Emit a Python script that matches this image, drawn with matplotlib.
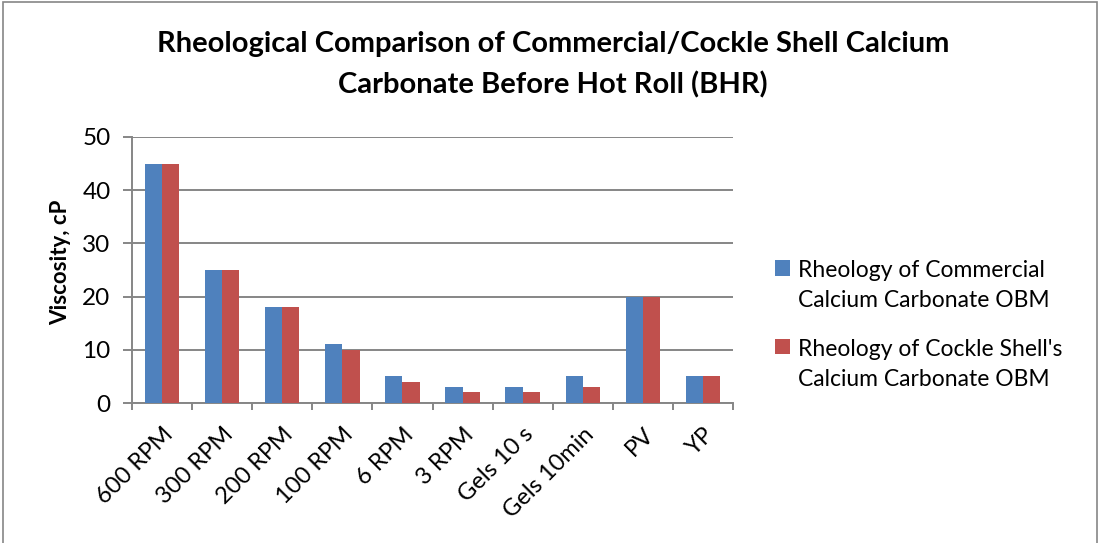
import numpy as np
import matplotlib
matplotlib.use("Agg")
import matplotlib.pyplot as plt

plt.rcParams['font.family'] = ['Lato', 'DejaVu Sans']

# data
categories = ["600 RPM", "300 RPM", "200 RPM", "100 RPM", "6 RPM", "3 RPM",
              "Gels 10 s", "Gels 10min", "PV", "YP"]
commercial = [45, 25, 18, 11, 5, 3, 3, 5, 20, 5]
cockle = [45, 25, 18, 10, 4, 2, 2, 3, 20, 5]
series_names = ["Rheology of Commercial\nCalcium Carbonate OBM",
                "Rheology of Cockle Shell's\nCalcium Carbonate OBM"]
y_ticks = [0, 10, 20, 30, 40, 50]

W, H = 1101, 543
fig = plt.figure(figsize=(W / 100, H / 100), dpi=100)

# plot area in pixel coordinates
left, right, top, bottom = 132, 733, 137, 403
ax = fig.add_axes([left / W, (H - bottom) / H, (right - left) / W, (bottom - top) / H])

grid_col = "#868686"
blue = "#4F81BD"
red = "#C0504D"
lw = 1.4

x = np.arange(len(categories))
w = 1 / 3.5
ax.bar(x - w / 2, commercial, w, color=blue, label=series_names[0], zorder=3)
ax.bar(x + w / 2, cockle, w, color=red, label=series_names[1], zorder=3)

ax.set_xlim(-0.5, len(categories) - 0.5)
ax.set_ylim(0, 50)
ax.set_yticks(y_ticks)
ax.set_yticklabels([str(v) for v in y_ticks], fontsize=17.5)
ax.yaxis.grid(True, color=grid_col, linewidth=lw, zorder=0)

# category boundary ticks, names centred under each pair
ax.set_xticks(np.arange(-0.5, len(categories), 1.0))
ax.set_xticklabels([])
ax.set_xticks(x, minor=True)
ax.set_xticklabels(categories, minor=True, rotation=45, ha="right",
                   rotation_mode="anchor", fontsize=17)
ax.tick_params(axis="x", which="minor", length=0, pad=15)
ax.tick_params(axis="x", which="major", length=5, width=lw, color=grid_col, direction="out")
ax.tick_params(axis="y", length=6.5, width=lw, color=grid_col, direction="out", pad=9)

for s in ["top", "right"]:
    ax.spines[s].set_visible(False)
for s in ["left", "bottom"]:
    ax.spines[s].set_color(grid_col)
    ax.spines[s].set_linewidth(lw)

ax.set_ylabel("Viscosity, cP", fontsize=16, fontweight="bold")
ax.yaxis.set_label_coords(-0.101, 0.53)

fig.text(0.502, 1 - 31 / H,
         "Rheological Comparison of Commercial/Cockle Shell Calcium\nCarbonate Before Hot Roll (BHR)",
         ha="center", va="top", fontsize=21, fontweight="bold", linespacing=1.65)

leg = ax.legend(loc="center left", bbox_to_anchor=(775 / W, (H - 325) / H),
                bbox_transform=fig.transFigure, frameon=False, fontsize=16.5,
                handlelength=0.64, handleheight=0.64, handletextpad=0.35,
                labelspacing=1.23, borderpad=0, borderaxespad=0)
for t in leg.get_texts():
    t.set_linespacing(1.5)
# put the colour square next to the first line of each label
for hnd in leg.legend_handles:
    hnd.set_y(hnd.get_y() + 13)

# chart border
fig.patches.append(plt.Rectangle((3 / W, -0.01), (1097 - 3) / W, 1 - 2 / H + 0.01,
                                 transform=fig.transFigure, fill=False,
                                 edgecolor=grid_col, linewidth=1.2))

fig.savefig("out.png", dpi=100)
